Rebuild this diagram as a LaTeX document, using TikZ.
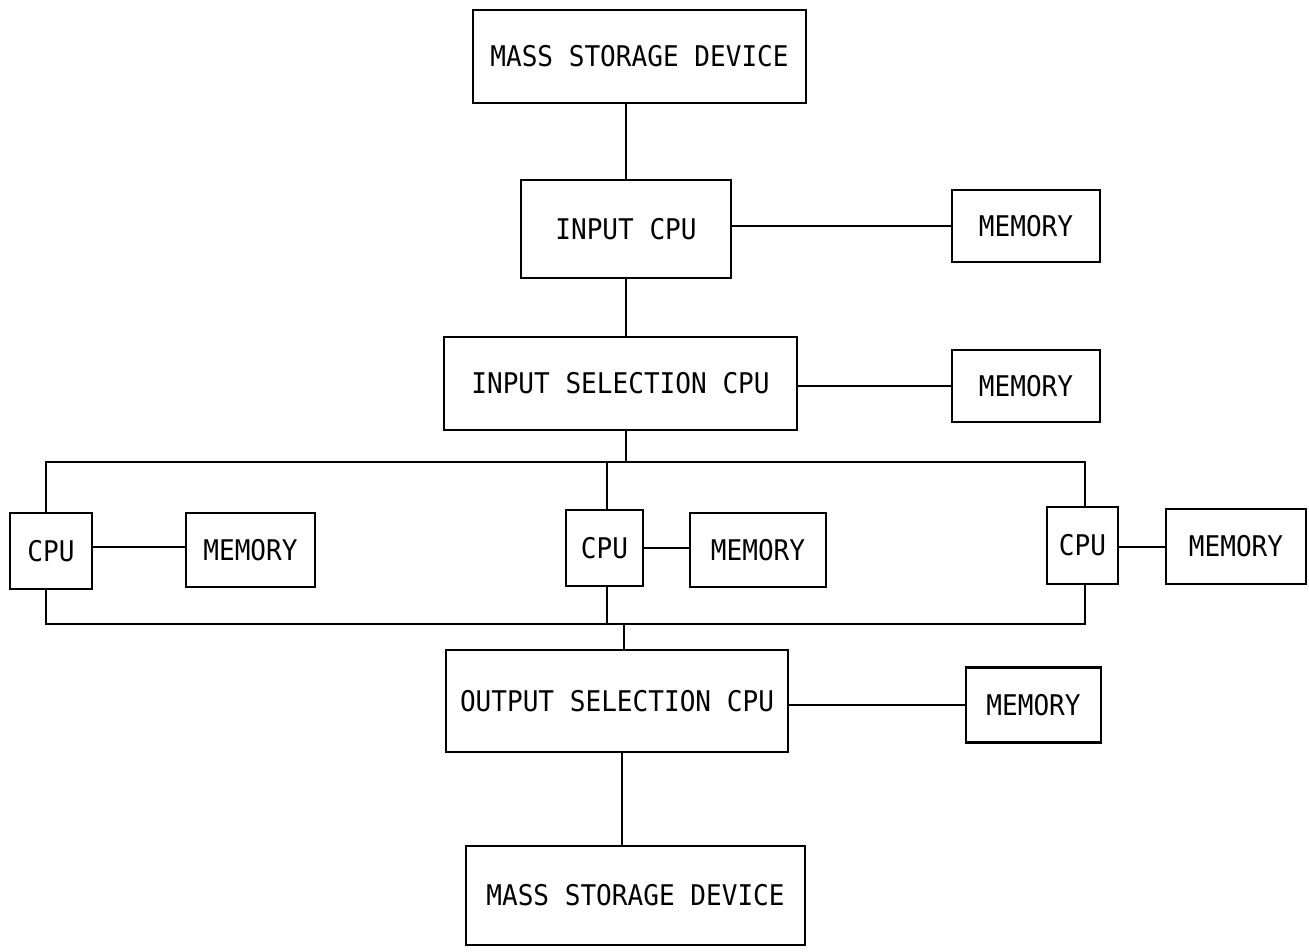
\documentclass[tikz,border=0pt]{standalone}
\usepackage{fontspec}
\newfontfamily\diagfont{DejaVu Sans Mono}[FakeStretch=0.915]
\begin{document}
\begin{tikzpicture}[x=1pt,y=-1pt,
  box/.style={draw,line width=2.4pt,inner sep=0pt,font=\diagfont\fontsize{28.5}{31}\selectfont},
  wire/.style={line width=2.2pt}]
\useasboundingbox[fill=white] (0,0) rectangle (1309,952);
% boxes
\node[box,minimum width=333pt,minimum height=93pt] (ms1) at (639.5,56.5) {MASS STORAGE DEVICE};
\node[box,minimum width=210pt,minimum height=98pt] (icpu) at (626,229) {INPUT CPU};
\node[box,minimum width=148pt,minimum height=72pt] (mem1) at (1026,226) {MEMORY};
\node[box,minimum width=353pt,minimum height=93pt] (iscpu) at (620.5,383.5) {INPUT SELECTION CPU};
\node[box,minimum width=148pt,minimum height=72pt] (mem2) at (1026,386) {MEMORY};
\node[box,minimum width=82pt,minimum height=76pt] (cpuL) at (51,551) {CPU};
\node[box,minimum width=129pt,minimum height=74pt] (memL) at (250.5,550) {MEMORY};
\node[box,minimum width=77pt,minimum height=76pt] (cpuM) at (604.5,548) {CPU};
\node[box,minimum width=136pt,minimum height=74pt] (memM) at (758,550) {MEMORY};
\node[box,minimum width=71pt,minimum height=77pt] (cpuR) at (1082.5,545.5) {CPU};
\node[box,minimum width=140pt,minimum height=75pt] (memR) at (1236,546.5) {MEMORY};
\node[box,minimum width=342pt,minimum height=102pt] (oscpu) at (617,701) {OUTPUT SELECTION CPU};
\node[box,minimum width=135pt,minimum height=75pt] (mem3) at (1033.5,705) {MEMORY};
\node[box,minimum width=339pt,minimum height=99pt] (ms2) at (635.5,895.5) {MASS STORAGE DEVICE};
% bus corners
\coordinate (tl) at (46,462);
\coordinate (tr) at (1085,462);
\coordinate (bl) at (46,624);
\coordinate (br) at (1085,624);
\coordinate (tm) at (607,462);
\coordinate (bm) at (607,624);
\coordinate (tin) at (626,462);
\coordinate (bout) at (624,624);
\coordinate (xo) at (622,0);
% connectors
\draw[wire] (icpu.north) -- (icpu.north |- ms1.south);
\draw[wire] (icpu.south) -- (icpu.south |- iscpu.north);
\draw[wire] (mem1.west) -- (mem1.west -| icpu.east);
\draw[wire] (mem2.west) -- (mem2.west -| iscpu.east);
\draw[wire] (tin |- iscpu.south) -- (tin);
\draw[wire] (tl |- cpuL.north) -- (tl) -- (tr) -- (tr |- cpuR.north);
\draw[wire] (bl |- cpuL.south) -- (bl) -- (br) -- (br |- cpuR.south);
\draw[wire] (tm) -- (tm |- cpuM.north);
\draw[wire] (bm) -- (bm |- cpuM.south);
\draw[wire] (cpuL.east |- 0,547) -- (memL.west |- 0,547);
\draw[wire] (cpuM.east |- 0,548) -- (memM.west |- 0,548);
\draw[wire] (cpuR.east |- 0,547) -- (memR.west |- 0,547);
\draw[wire] (bout) -- (bout |- oscpu.north);
\draw[wire] (mem3.west) -- (mem3.west -| oscpu.east);
\draw[wire] (xo |- oscpu.south) -- (xo |- ms2.north);
\end{tikzpicture}
\end{document}
